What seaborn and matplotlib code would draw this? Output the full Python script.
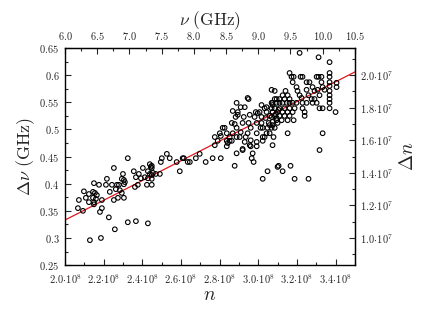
import matplotlib
matplotlib.use('Agg')
import numpy as np
import matplotlib.pyplot as plt
import seaborn as sns
from matplotlib.ticker import MultipleLocator, FuncFormatter


# n in units of 1e8, delta nu in GHz
n_low = [
    2.253, 2.150, 2.098, 2.072, 2.067, 2.093, 2.124, 2.145, 2.155, 2.165,
    2.108, 2.124, 2.145, 2.150, 2.150, 2.160, 2.176, 2.191, 2.191, 2.181,
    2.212, 2.217, 2.232, 2.243, 2.253, 2.269, 2.263, 2.274, 2.279, 2.284,
    2.294, 2.300, 2.305, 2.305, 2.294, 2.305, 2.310, 2.227, 2.258, 2.325,
    2.367, 2.429, 2.129, 2.186, 2.356, 2.362, 2.367, 2.377, 2.382, 2.393,
    2.403, 2.413, 2.424, 2.429, 2.429, 2.439, 2.444, 2.449, 2.439, 2.449,
    2.455, 2.449, 2.449, 2.470, 2.491, 2.496, 2.578, 2.594, 2.635, 2.646,
    2.325, 2.449, 2.501, 2.527, 2.542, 2.609, 2.677, 2.697, 2.728, 2.764,
    2.806, 2.615,
]
dnu_low = [
    0.429, 0.401, 0.386, 0.370, 0.355, 0.350, 0.381, 0.385, 0.383, 0.379,
    0.374, 0.366, 0.374, 0.366, 0.362, 0.372, 0.398, 0.370, 0.355, 0.348,
    0.398, 0.409, 0.385, 0.398, 0.370, 0.398, 0.390, 0.374, 0.398, 0.388,
    0.409, 0.418, 0.407, 0.399, 0.383, 0.374, 0.403, 0.338, 0.316, 0.329,
    0.331, 0.327, 0.296, 0.300, 0.423, 0.394, 0.412, 0.398, 0.418, 0.410,
    0.429, 0.412, 0.398, 0.423, 0.410, 0.436, 0.431, 0.429, 0.418, 0.416,
    0.420, 0.409, 0.398, 0.418, 0.418, 0.440, 0.440, 0.423, 0.440, 0.440,
    0.447, 0.433, 0.447, 0.455, 0.447, 0.447, 0.447, 0.455, 0.440, 0.447,
    0.447, 0.447,
]

n_mid = [
    2.775, 2.790, 2.816, 2.801, 2.826, 2.837, 2.852, 2.842, 2.888, 2.868,
    2.883, 2.878, 2.888, 2.868, 2.888, 2.837, 2.888, 2.878, 2.894, 2.775,
    2.837, 2.852, 2.863, 2.863, 2.894, 2.904, 2.909, 2.909, 2.930, 2.925,
    2.919, 2.919, 2.930, 2.935, 2.945, 2.956, 2.950, 2.961, 2.945, 2.961,
    2.956, 2.971, 2.966, 2.981, 2.987, 2.992, 2.992, 2.992, 2.997, 3.007,
    3.017, 3.017, 3.017, 3.023, 3.023, 3.023, 3.012, 3.033, 3.043, 3.043,
    3.038, 3.054, 3.043, 3.059, 3.048, 3.069, 3.074, 3.074, 3.074, 3.085,
    3.079, 3.074, 3.090, 3.095, 3.100, 3.105, 3.069, 3.048, 3.023, 3.100,
    2.976, 2.961, 2.992, 3.033, 2.919, 2.950, 2.806,
]
dnu_mid = [
    0.486, 0.479, 0.503, 0.493, 0.503, 0.493, 0.486, 0.475, 0.549, 0.534,
    0.523, 0.510, 0.503, 0.493, 0.486, 0.469, 0.456, 0.433, 0.532, 0.471,
    0.479, 0.479, 0.479, 0.512, 0.527, 0.486, 0.495, 0.541, 0.541, 0.523,
    0.512, 0.464, 0.477, 0.486, 0.558, 0.527, 0.512, 0.503, 0.493, 0.480,
    0.471, 0.456, 0.447, 0.523, 0.532, 0.512, 0.493, 0.477, 0.530, 0.532,
    0.545, 0.523, 0.512, 0.503, 0.486, 0.479, 0.503, 0.539, 0.532, 0.541,
    0.521, 0.512, 0.493, 0.493, 0.503, 0.523, 0.532, 0.545, 0.514, 0.503,
    0.486, 0.471, 0.528, 0.521, 0.512, 0.536, 0.573, 0.423, 0.409, 0.431,
    0.440, 0.469, 0.469, 0.486, 0.462, 0.556, 0.488,
]

n_high = [
    3.214, 3.312, 3.369, 3.162, 3.172, 3.183, 3.178, 3.219, 3.229, 3.250,
    3.265, 3.302, 3.312, 3.327, 3.327, 3.369, 3.369, 3.369, 3.369, 3.369,
    3.369, 3.369, 3.369, 3.369, 3.405, 3.405, 3.400, 3.333, 3.317, 3.085,
    3.141, 3.126, 3.136, 3.152, 3.162, 3.198, 3.203, 3.214, 3.224, 3.250,
    3.260, 3.281, 3.291, 3.276, 3.291, 3.307, 3.317, 3.333, 3.343, 3.085,
    3.095, 3.110, 3.069, 3.074, 3.095, 3.110, 3.126, 3.147, 3.162, 3.178,
    3.198, 3.229, 3.250, 3.281, 3.302, 3.069, 3.085, 3.110, 3.136, 3.162,
    3.188, 3.229, 3.240, 3.074, 3.100, 3.126, 3.152, 3.178, 3.059, 3.085,
    3.110, 3.136, 3.162, 3.240, 3.095, 3.121, 3.152, 3.183, 3.059, 3.074,
    3.069, 3.152, 3.333, 3.317, 3.105, 3.126, 3.167, 3.188, 3.260,
]
dnu_high = [
    0.641, 0.633, 0.624, 0.604, 0.597, 0.597, 0.587, 0.597, 0.597, 0.587,
    0.587, 0.597, 0.597, 0.597, 0.587, 0.604, 0.597, 0.587, 0.580, 0.571,
    0.563, 0.556, 0.549, 0.539, 0.586, 0.578, 0.532, 0.539, 0.539, 0.571,
    0.571, 0.563, 0.556, 0.563, 0.556, 0.578, 0.571, 0.563, 0.558, 0.573,
    0.563, 0.578, 0.571, 0.556, 0.556, 0.573, 0.563, 0.578, 0.573, 0.556,
    0.556, 0.556, 0.549, 0.549, 0.549, 0.549, 0.549, 0.549, 0.549, 0.549,
    0.549, 0.549, 0.549, 0.549, 0.549, 0.539, 0.539, 0.539, 0.539, 0.539,
    0.539, 0.539, 0.532, 0.532, 0.532, 0.532, 0.532, 0.532, 0.525, 0.525,
    0.525, 0.525, 0.525, 0.525, 0.517, 0.517, 0.517, 0.517, 0.508, 0.508,
    0.503, 0.493, 0.493, 0.462, 0.433, 0.423, 0.433, 0.409, 0.409,
]

# linear fit line (end points)
fit_n = [2.0, 3.5]
fit_dnu = [0.333, 0.606]

# conversion: nu (GHz) = 3e-8 * n, delta n = delta nu / 3e-8
SCALE = 3e-8


def tex(fmt):
    return FuncFormatter(lambda v, pos: '$' + fmt(v) + '$')


def make_plot():
    sns.set_style('ticks')
    plt.rcParams['mathtext.fontset'] = 'cm'
    plt.rcParams['font.family'] = ['DejaVu Serif']

    n = np.array(n_low + n_mid + n_high) * 1e8
    dnu = np.array(dnu_low + dnu_mid + dnu_high)

    fig = plt.figure(figsize=(4.36, 3.16), dpi=100)
    ax = fig.add_axes([0.149, 0.161, 0.665, 0.687])

    sns.lineplot(x=np.array(fit_n) * 1e8, y=fit_dnu, color='#e8161b', lw=0.9, ax=ax, zorder=1)
    sns.scatterplot(x=n, y=dnu, marker='o', facecolor='none', edgecolor='black',
                    s=11, linewidth=0.8, ax=ax, zorder=2)

    ax.set_xlim(2.0e8, 3.5e8)
    ax.set_ylim(0.25, 0.65)

    ax.xaxis.set_major_locator(MultipleLocator(0.2e8))
    ax.xaxis.set_minor_locator(MultipleLocator(0.1e8))
    ax.yaxis.set_major_locator(MultipleLocator(0.05))
    ax.yaxis.set_minor_locator(MultipleLocator(0.025))
    ax.xaxis.set_major_formatter(tex(lambda v: r'%.1f\!\cdot\!10^{8}' % (v / 1e8)))
    ax.yaxis.set_major_formatter(tex(lambda v: '%g' % round(v, 3)))

    top = ax.secondary_xaxis('top', functions=(lambda x: x * SCALE, lambda v: v / SCALE))
    top.xaxis.set_major_locator(MultipleLocator(0.5))
    top.xaxis.set_minor_locator(MultipleLocator(0.25))
    top.xaxis.set_major_formatter(tex(lambda v: '%.1f' % v))

    right = ax.secondary_yaxis('right', functions=(lambda y: y / SCALE, lambda m: m * SCALE))
    right.yaxis.set_major_locator(MultipleLocator(0.2e7))
    right.yaxis.set_minor_locator(MultipleLocator(0.1e7))
    right.yaxis.set_major_formatter(tex(lambda v: r'%.1f\!\cdot\!10^{7}' % (v / 1e7)))

    for a in (ax, top, right):
        a.tick_params(which='major', direction='in', length=4, width=0.8, labelsize=7.5, pad=4)
        a.tick_params(which='minor', direction='in', length=2, width=0.8)
    for s in ax.spines.values():
        s.set_linewidth(1.0)
        s.set_color('black')
    ax.tick_params(axis='x', which='major', pad=5)

    ax.set_xlabel(r'$n$', fontsize=14, labelpad=0)
    ax.set_ylabel(r'$\Delta\nu\ (\mathrm{GHz})$', fontsize=13, labelpad=2)
    top.set_xlabel(r'$\nu\ (\mathrm{GHz})$', fontsize=12.5, labelpad=4)
    right.set_ylabel(r'$\Delta n$', fontsize=14, labelpad=4)

    fig.savefig('out.png', dpi=100)


if __name__ == '__main__':
    make_plot()
